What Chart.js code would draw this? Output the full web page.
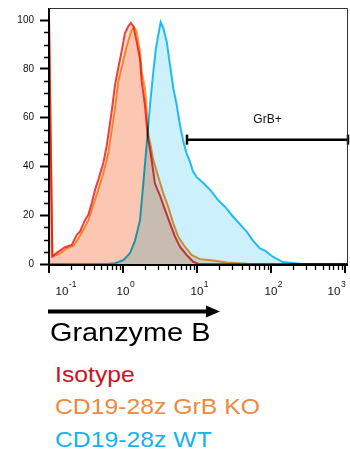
<!DOCTYPE html>
<html lang="en">
<head>
  <meta charset="UTF-8" />
  <meta name="viewport" content="width=device-width, initial-scale=1" />
  <title>Granzyme B histogram</title>
  <script src="https://cdn.jsdelivr.net/npm/chart.js"></script>
  <style>
    body {
      margin: 0;
      background: #fff;
      font-family: 'Liberation Sans', Arial, Helvetica, sans-serif;
    }
    .wrap {
      position: relative;
      width: 350px;
      height: 453px;
      overflow: hidden;
    }
    #histo {
      position: absolute;
      left: 0;
      top: 0;
    }
    .txt {
      position: absolute;
      white-space: nowrap;
      line-height: 1;
      transform-origin: left center;
    }
    .axis-name { left: 50px; top: 319px; font-size: 26px; color: #000; transform: scaleX(1.11); }
    .leg { left: 55px; font-size: 22.5px; transform: scaleX(1.1); }
    .iso { top: 364px; color: #c8141e; }
    .ko  { top: 396px; color: #f0883e; }
    .wt  { top: 429px; color: #16b2ea; }
  </style>
</head>
<body>
<div class="wrap">
  <canvas id="histo" width="350" height="300"></canvas>

  <svg style="position:absolute;left:0;top:0" width="350" height="330">
    <line x1="48" y1="311.5" x2="210" y2="311.5" stroke="#000" stroke-width="4" />
    <polygon points="206,305.5 220,311.5 206,317.5" fill="#000" />
  </svg>

  <div class="txt axis-name">Granzyme B</div>
  <div class="txt leg iso">Isotype</div>
  <div class="txt leg ko">CD19-28z GrB KO</div>
  <div class="txt leg wt">CD19-28z WT</div>
</div>

<script>
  // histogram traces (x = fluorescence, y = % of max)
  const isoX = [0.1, 0.111, 0.134, 0.164, 0.203, 0.237, 0.262, 0.306, 0.340, 0.378, 0.419, 0.463, 0.542, 0.603,
                0.703, 0.780, 0.863, 0.959, 1.064, 1.18, 1.28, 1.38, 1.53, 1.70, 1.79, 1.98, 2.09, 2.20, 2.44,
                2.70, 3.16, 3.70, 4.32, 5.05, 5.89, 7.26, 8.91, 10.4, 30, 1100];
  const isoY = [102, 3.3, 5.1, 6.9, 7.8, 12, 13.3, 18, 20.2, 25, 30.4, 34.5, 41.4, 48.5,
                62.6, 73.5, 80.4, 87.3, 94.7, 97.5, 98.9, 97.5, 91.3, 84, 75, 65.3, 57, 51, 42.7,
                33.1, 28.1, 22.2, 16.7, 11.2, 7.1, 3.7, 0.9, 0.1, 0, 0];

  const koX = [0.1, 0.111, 0.141, 0.173, 0.213, 0.249, 0.291, 0.340, 0.397, 0.463, 0.542, 0.632, 0.667, 0.780,
               0.863, 0.979, 1.12, 1.31, 1.42, 1.53, 1.70, 1.79, 1.98, 2.09, 2.20, 2.32, 2.57, 3.00, 3.51,
               4.09, 4.79, 5.59, 6.89, 8.47, 11.0, 16.6, 25.2, 47.0, 1100];
  const koY = [102, 3.0, 4.4, 6.4, 7.4, 10.5, 14, 18, 24.2, 30.4, 37.3, 45.4, 50.3, 63.9,
               74.9, 81.8, 89.3, 96.1, 97.1, 95.5, 87, 79, 72, 64, 53, 50, 42.7, 35.8, 29,
               23.5, 16.7, 11.2, 7.1, 3.7, 2.0, 1.4, 0.65, 0.1, 0];

  const wtX = [0.1, 0.603, 0.780, 1.01, 1.24, 1.45, 1.70, 1.88, 2.09, 2.32, 2.57, 2.79, 3.00, 3.23, 3.51,
               3.90, 4.32, 4.79, 5.32, 5.89, 6.53, 7.22, 8.04, 8.83, 10.0, 12.4, 15.5, 19.2, 23.9, 29.7,
               38.1, 47.0, 57.1, 71.0, 83.0, 106, 145, 198, 247, 1100];
  const wtY = [0, 0, 0.3, 1.6, 4.4, 9.5, 18, 33, 49, 65.3, 79, 88.5, 94, 99.3, 96.8,
               91.3, 81.7, 72.1, 65.3, 57.1, 50.3, 45.5, 42, 38, 35.5, 33, 30, 26.3, 23.5, 20,
               16.3, 13.3, 9.6, 6.4, 5.5, 3.0, 0.8, 0.4, 0.1, 0];

  // GrB+ gate
  const gateX = [7.33, 1100];
  const gateY = 51;
  const gateLabel = 'GrB+';

  // axes
  const yTickValues = [0, 20, 40, 60, 80, 100];
  const yMinorStep = 5;
  const xExponents = [-1, 0, 1, 2, 3];

  const toPoints = (xs, ys) => xs.map((x, i) => ({ x, y: ys[i] }));

  // stop the scales from asking for extra room round the plot
  const noPad = s => {
    s.paddingLeft = 0;
    s.paddingRight = 0;
    s.paddingTop = 0;
    s.paddingBottom = 0;
  };

  const histoExtras = {
    id: 'histoExtras',
    beforeDatasetsDraw(chart) {
      chart.ctx.save();
      chart.ctx.globalCompositeOperation = 'multiply';
    },
    afterDatasetsDraw(chart) {
      chart.ctx.restore();
    },
    afterDraw(chart) {
      const { ctx, chartArea: a, scales: { x, y } } = chart;
      ctx.save();
      ctx.strokeStyle = '#000';

      // axis lines
      ctx.lineWidth = 2;
      ctx.beginPath();
      ctx.moveTo(a.left, a.top);
      ctx.lineTo(a.left, a.bottom + 1);
      ctx.lineTo(a.right, a.bottom + 1);
      ctx.stroke();

      // frame top / right
      ctx.lineWidth = 1;
      ctx.strokeStyle = '#333';
      ctx.beginPath();
      ctx.moveTo(a.left, a.top + 0.5);
      ctx.lineTo(a.right - 0.5, a.top + 0.5);
      ctx.lineTo(a.right - 0.5, a.bottom);
      ctx.stroke();
      ctx.strokeStyle = '#000';

      // minor y ticks
      ctx.lineWidth = 1.5;
      for (let v = yMinorStep; v < 100; v += yMinorStep) {
        if (v % 20 === 0) continue;
        const py = Math.round(y.getPixelForValue(v)) + 0.5;
        ctx.beginPath();
        ctx.moveTo(a.left - 5, py);
        ctx.lineTo(a.left, py);
        ctx.stroke();
      }

      // x ticks (log decades)
      for (let e = -1; e <= 3; e++) {
        for (let m = 1; m <= 9; m++) {
          const v = m * Math.pow(10, e);
          if (v > x.max) break;
          const major = m === 1;
          const px = major ? Math.round(x.getPixelForValue(v)) : Math.round(x.getPixelForValue(v)) + 0.5;
          ctx.lineWidth = major ? 2 : 1.3;
          ctx.beginPath();
          ctx.moveTo(px, a.bottom + 1);
          ctx.lineTo(px, a.bottom + (major ? 9 : 6));
          ctx.stroke();
        }
      }

      // x labels 10^n
      ctx.fillStyle = '#111';
      ctx.textBaseline = 'alphabetic';
      xExponents.forEach(e => {
        let px = x.getPixelForValue(Math.pow(10, e));
        px = Math.min(Math.max(px, a.left + 13), a.right - 14);
        ctx.font = '11.5px "Liberation Sans", Arial, sans-serif';
        ctx.textAlign = 'center';
        ctx.fillText('10', px, a.bottom + 31);
        const w = ctx.measureText('10').width;
        ctx.font = '8.5px "Liberation Sans", Arial, sans-serif';
        ctx.textAlign = 'left';
        ctx.fillText(String(e), px + w / 2 + 0.5, a.bottom + 23);
      });

      // gate label
      const gx = (x.getPixelForValue(gateX[0]) + Math.min(x.getPixelForValue(gateX[1]), a.right)) / 2;
      const gy = y.getPixelForValue(gateY);
      ctx.font = '12px "Liberation Sans", Arial, sans-serif';
      ctx.textAlign = 'center';
      ctx.textBaseline = 'middle';
      ctx.fillText(gateLabel, gx, gy - 20);
      ctx.restore();
    }
  };

  new Chart(document.getElementById('histo'), {
    type: 'line',
    data: {
      datasets: [
        {
          label: 'gate',
          data: toPoints(gateX, [gateY, gateY]),
          borderColor: '#000',
          borderWidth: 2.5,
          pointStyle: 'line',
          rotation: 90,
          pointRadius: 5,
          pointBorderWidth: 2.5,
          pointBorderColor: '#000',
          fill: false,
          clip: false
        },
        {
          label: 'CD19-28z GrB KO',
          data: toPoints(koX, koY),
          borderColor: '#f8a03c',
          backgroundColor: '#fde1d5',
          borderWidth: 2,
          pointRadius: 0,
          fill: 'origin'
        },
        {
          label: 'Isotype',
          data: toPoints(isoX, isoY),
          borderColor: '#f24242',
          backgroundColor: '#fde1d5',
          borderWidth: 2,
          pointRadius: 0,
          fill: 'origin'
        },
        {
          label: 'CD19-28z WT',
          data: toPoints(wtX, wtY),
          borderColor: '#22c2f2',
          backgroundColor: '#ccf1fc',
          borderWidth: 2,
          pointRadius: 0,
          fill: 'origin'
        }
      ]
    },
    options: {
      responsive: false,
      animation: false,
      layout: { autoPadding: false, padding: { left: 0, top: 8, right: 2, bottom: 0 } },
      plugins: {
        legend: { display: false },
        tooltip: { enabled: false }
      },
      scales: {
        x: {
          type: 'logarithmic',
          min: 0.1,
          max: 1100,
          grid: { display: false },
          border: { display: false },
          ticks: { display: false },
          afterFit: s => { s.height = 36; noPad(s); }
        },
        y: {
          min: 0,
          max: 105,
          afterBuildTicks: s => { s.ticks = yTickValues.map(v => ({ value: v })); },
          afterFit: s => { s.width = 49; noPad(s); },
          grid: {
            display: true,
            drawOnChartArea: false,
            drawTicks: true,
            tickLength: 9,
            tickWidth: 2,
            tickColor: '#000'
          },
          border: { display: false },
          ticks: {
            padding: 6,
            color: '#111',
            font: { family: "'Liberation Sans', Arial, sans-serif", size: 10 }
          }
        }
      }
    },
    plugins: [histoExtras]
  });
</script>
</body>
</html>
